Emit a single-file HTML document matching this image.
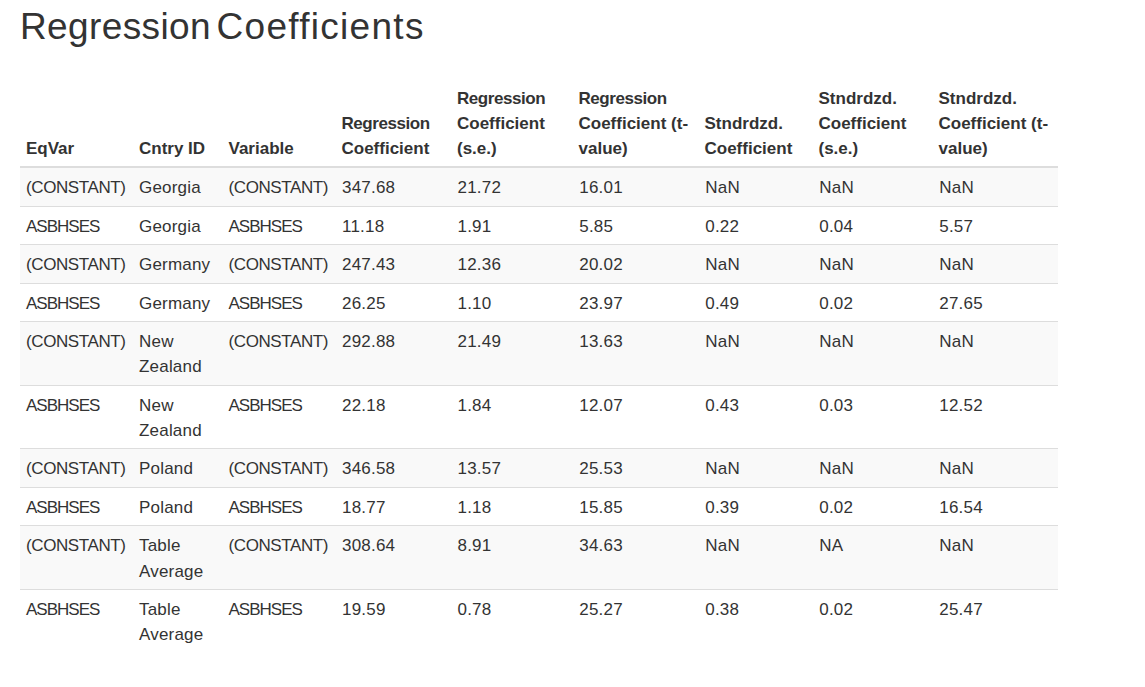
<!DOCTYPE html>
<html><head><meta charset="utf-8">
<style>
html,body{margin:0;padding:0;background:#fff;}
body{font-family:"Liberation Sans",sans-serif;color:#333;font-size:17px;line-height:25.4px;}
h1{position:absolute;left:20px;top:1px;margin:0;font-weight:normal;font-size:37px;line-height:52px;white-space:nowrap;}
h1 span{position:absolute;top:0;}
.w1{left:0;letter-spacing:0.38px;}
.w2{left:196.5px;letter-spacing:1.3px;}
table{position:absolute;left:20px;top:78px;width:1038px;border-collapse:collapse;border-spacing:0;table-layout:fixed;}
th,td{padding:6px;text-align:left;white-space:nowrap;}
th{font-weight:bold;vertical-align:bottom;border-bottom:2px solid #ddd;line-height:25px;padding:8px 6px 5.2px;}
td{vertical-align:top;border-top:1px solid #ddd;padding:7px 6px 5px;letter-spacing:0.2px;}
td.c{letter-spacing:-0.4px;}
td.a{letter-spacing:-1px;}
.r{letter-spacing:-0.45px;}
td:nth-child(n+4){padding-left:6.5px;}
td:nth-child(n+6){padding-left:6.8px;}
tbody tr:first-child td{border-top:0;}
tbody tr:nth-child(odd) td{background:#f9f9f9;}
tbody tr:nth-child(3) td{padding-bottom:6px;}
tbody tr:nth-child(4) td{padding-bottom:4px;}
</style></head><body>
<h1><span class="w1">Regression</span><span class="w2">Coefficients</span></h1>
<table>
<colgroup><col style="width:113px"><col style="width:89.5px"><col style="width:113px"><col style="width:115.5px"><col style="width:121.5px"><col style="width:126px"><col style="width:114px"><col style="width:120px"><col style="width:125.5px"></colgroup>
<thead><tr>
<th>EqVar</th><th>Cntry ID</th><th>Variable</th><th><span class="r">Regression</span><br>Coefficient</th><th><span class="r">Regression</span><br>Coefficient<br>(s.e.)</th><th><span class="r">Regression</span><br>Coefficient (t-<br>value)</th><th>Stndrdzd.<br>Coefficient</th><th>Stndrdzd.<br>Coefficient<br>(s.e.)</th><th>Stndrdzd.<br>Coefficient (t-<br>value)</th>
</tr></thead>
<tbody>
<tr><td class="c">(CONSTANT)</td><td>Georgia</td><td class="c">(CONSTANT)</td><td>347.68</td><td>21.72</td><td>16.01</td><td>NaN</td><td>NaN</td><td>NaN</td></tr>
<tr><td class="a">ASBHSES</td><td>Georgia</td><td class="a">ASBHSES</td><td>11.18</td><td>1.91</td><td>5.85</td><td>0.22</td><td>0.04</td><td>5.57</td></tr>
<tr><td class="c">(CONSTANT)</td><td>Germany</td><td class="c">(CONSTANT)</td><td>247.43</td><td>12.36</td><td>20.02</td><td>NaN</td><td>NaN</td><td>NaN</td></tr>
<tr><td class="a">ASBHSES</td><td>Germany</td><td class="a">ASBHSES</td><td>26.25</td><td>1.10</td><td>23.97</td><td>0.49</td><td>0.02</td><td>27.65</td></tr>
<tr><td class="c">(CONSTANT)</td><td>New<br>Zealand</td><td class="c">(CONSTANT)</td><td>292.88</td><td>21.49</td><td>13.63</td><td>NaN</td><td>NaN</td><td>NaN</td></tr>
<tr><td class="a">ASBHSES</td><td>New<br>Zealand</td><td class="a">ASBHSES</td><td>22.18</td><td>1.84</td><td>12.07</td><td>0.43</td><td>0.03</td><td>12.52</td></tr>
<tr><td class="c">(CONSTANT)</td><td>Poland</td><td class="c">(CONSTANT)</td><td>346.58</td><td>13.57</td><td>25.53</td><td>NaN</td><td>NaN</td><td>NaN</td></tr>
<tr><td class="a">ASBHSES</td><td>Poland</td><td class="a">ASBHSES</td><td>18.77</td><td>1.18</td><td>15.85</td><td>0.39</td><td>0.02</td><td>16.54</td></tr>
<tr><td class="c">(CONSTANT)</td><td>Table<br>Average</td><td class="c">(CONSTANT)</td><td>308.64</td><td>8.91</td><td>34.63</td><td>NaN</td><td>NA</td><td>NaN</td></tr>
<tr><td class="a">ASBHSES</td><td>Table<br>Average</td><td class="a">ASBHSES</td><td>19.59</td><td>0.78</td><td>25.27</td><td>0.38</td><td>0.02</td><td>25.47</td></tr>
</tbody>
</table>
</body></html>
